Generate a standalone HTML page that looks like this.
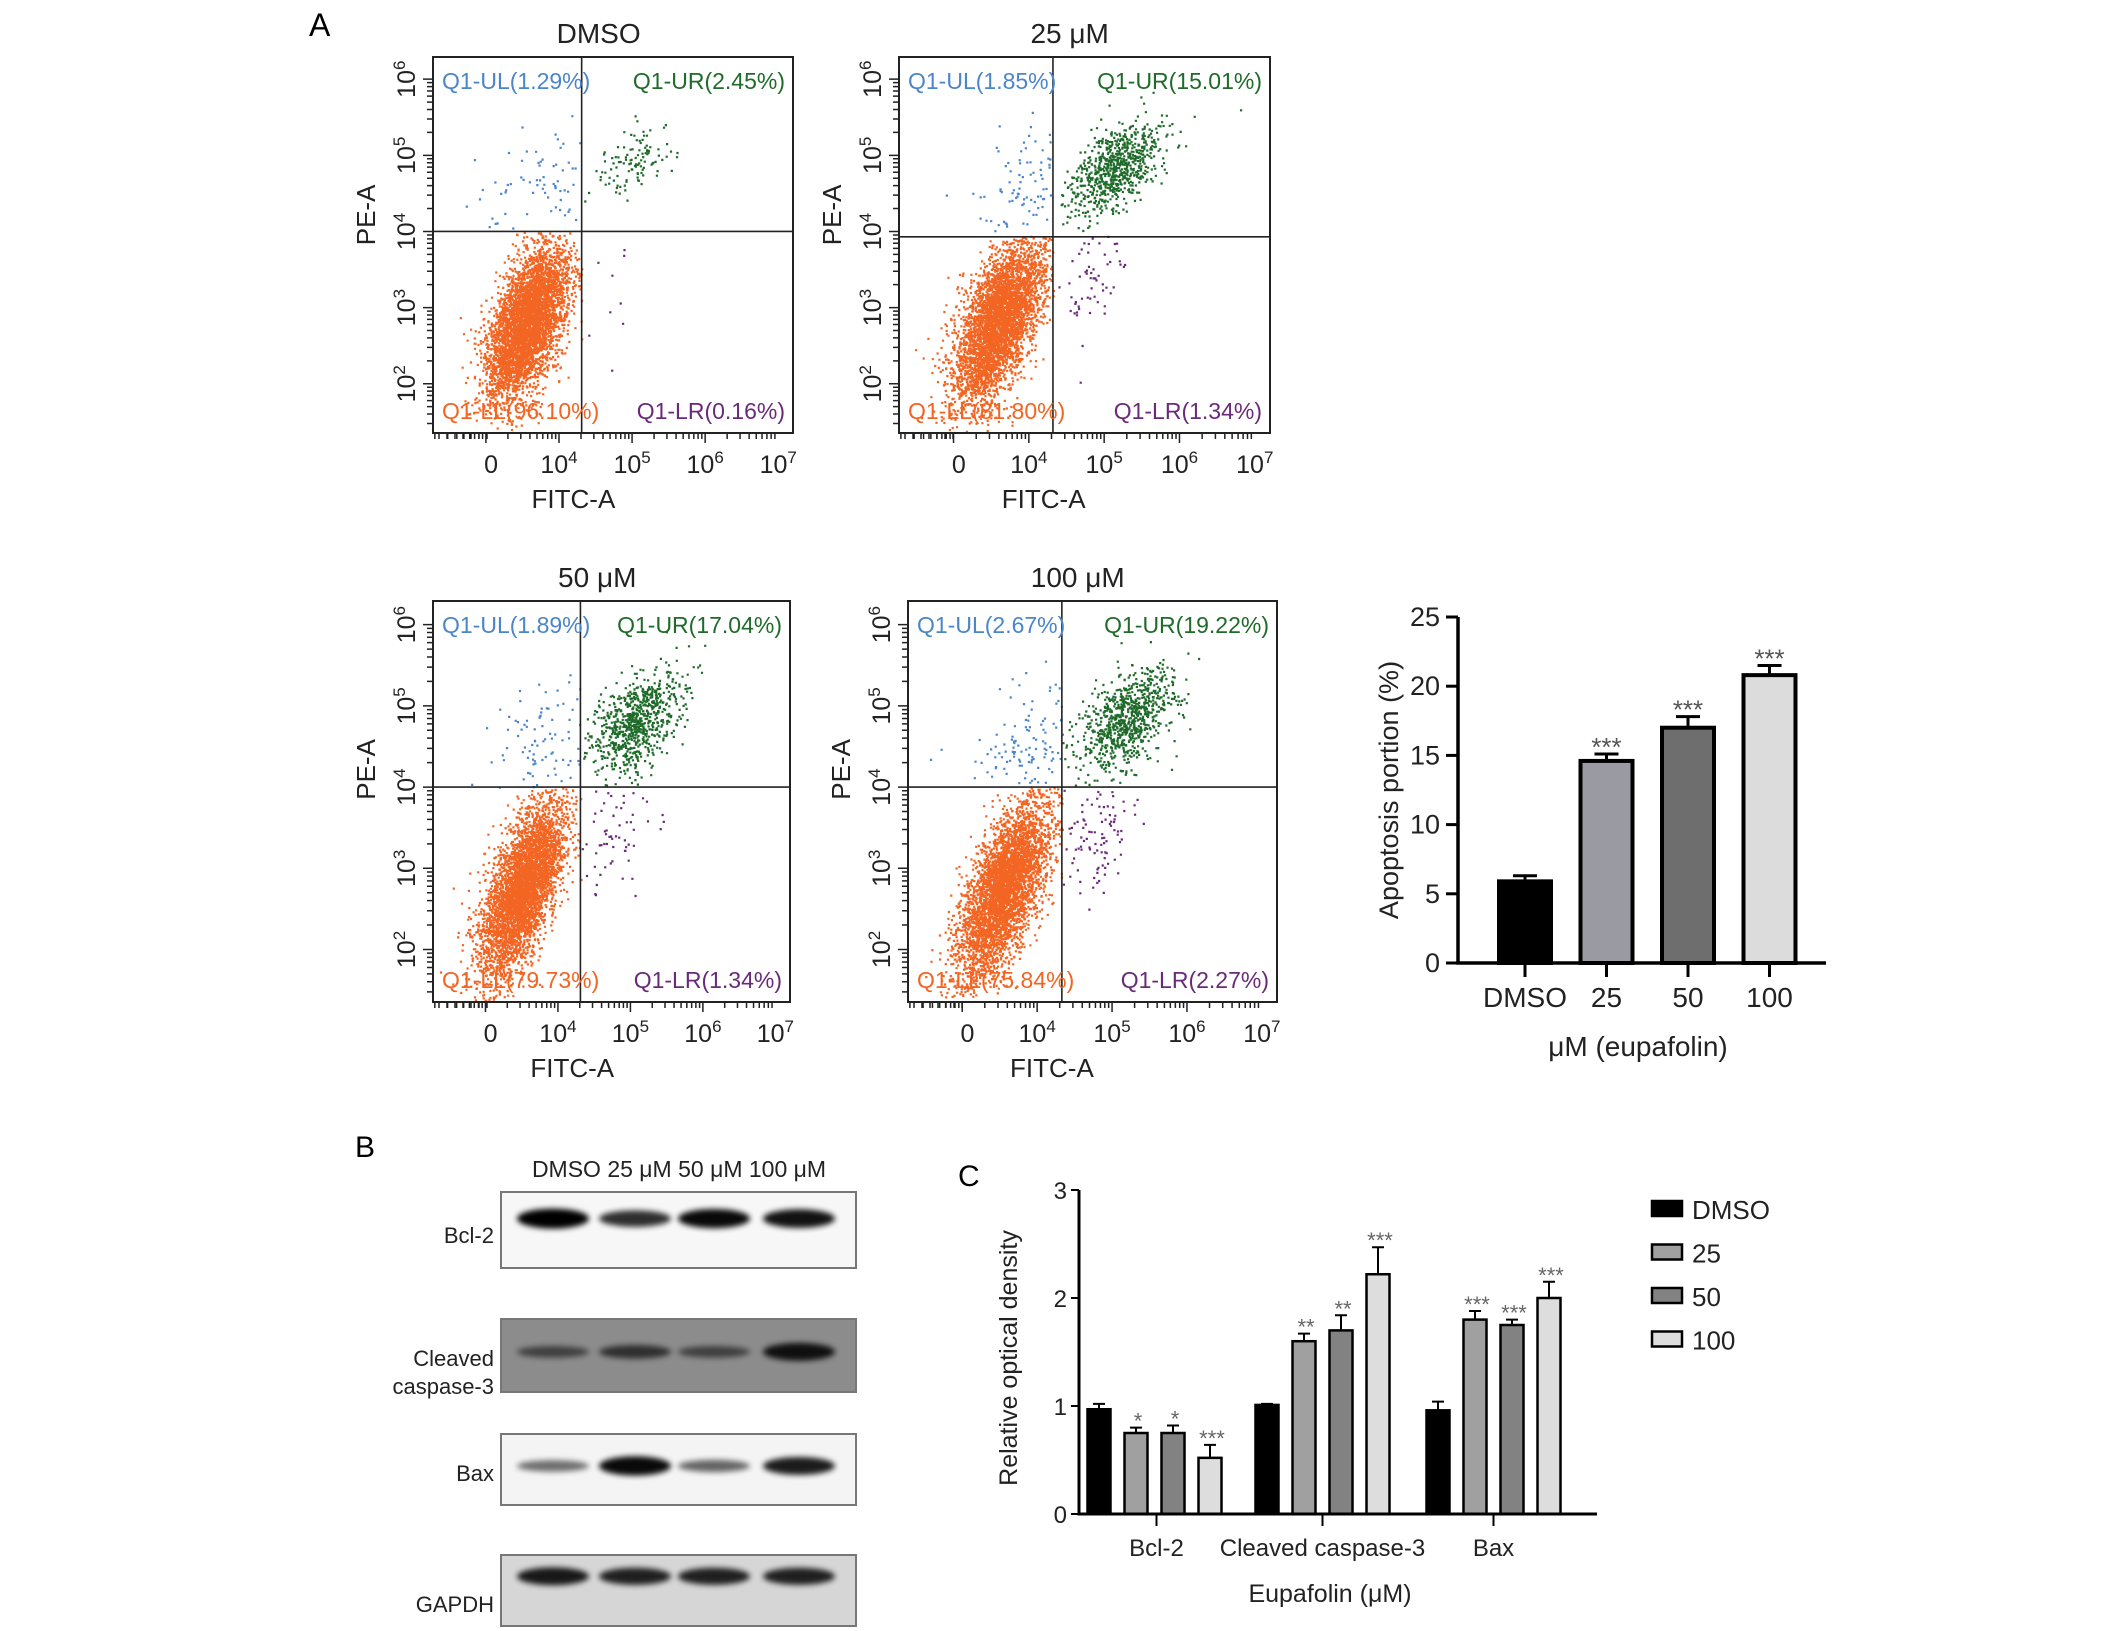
<!DOCTYPE html>
<html><head><meta charset="utf-8"><style>
html,body{margin:0;padding:0;background:#fff;}
svg{display:block;font-family:"Liberation Sans",Arial,sans-serif;}
</style></head><body>
<svg id="fig" width="2126" height="1631" viewBox="0 0 2126 1631" xmlns="http://www.w3.org/2000/svg">
<defs>
<filter id="blur" x="-30%" y="-100%" width="160%" height="300%"><feGaussianBlur stdDeviation="3"/></filter>
</defs>
<text x="309" y="36" font-size="32">A</text>
<text x="355" y="1157" font-size="30">B</text>
<text x="958" y="1186" font-size="30">C</text>
<g id="flows"></g>
<g id="barA"></g>
<g id="blots"></g>
<g id="barC"></g>
</svg>
<script>
var NS="http://www.w3.org/2000/svg";
function el(tag,attrs,parent,txt){var e=document.createElementNS(NS,tag);for(var k in attrs)e.setAttribute(k,attrs[k]);if(txt!==undefined)e.textContent=txt;parent.appendChild(e);return e;}

/* ---------- Flow cytometry data ---------- */
var flowTitles=["DMSO","25 \u03bcM","50 \u03bcM","100 \u03bcM"];
var flowUL=["Q1-UL(1.29%)","Q1-UL(1.85%)","Q1-UL(1.89%)","Q1-UL(2.67%)"];
var flowUR=["Q1-UR(2.45%)","Q1-UR(15.01%)","Q1-UR(17.04%)","Q1-UR(19.22%)"];
var flowLL=["Q1-LL(96.10%)","Q1-LL(81.80%)","Q1-LL(79.73%)","Q1-LL(75.84%)"];
var flowLR=["Q1-LR(0.16%)","Q1-LR(1.34%)","Q1-LR(1.34%)","Q1-LR(2.27%)"];
var gateX=[4.31,4.32,4.31,4.33];
var gateY=[4.0,3.93,4.0,4.0];
/* clusters: [centerX decade, centerY decade, sdX, sdY, correlation, count] */
var llClusters=[[3.55,2.8,0.28,0.5,0.55,4500],[3.6,2.85,0.3,0.55,0.6,4200],[3.5,2.75,0.3,0.55,0.65,4200],[3.55,2.75,0.3,0.55,0.65,4200]];
var urClusters=[[5.05,4.95,0.25,0.25,0.5,110],[5.15,4.85,0.3,0.3,0.5,750],[5.05,4.8,0.32,0.32,0.5,800],[5.2,4.85,0.32,0.32,0.5,850]];
var ulClusters=[[3.7,4.6,0.45,0.45,0.3,80],[3.9,4.5,0.4,0.45,0.3,110],[3.8,4.5,0.45,0.45,0.3,110],[3.9,4.45,0.4,0.4,0.3,150]];
var lrClusters=[[4.7,3.3,0.3,0.5,0.3,10],[4.85,3.45,0.25,0.4,0.4,70],[4.8,3.45,0.25,0.4,0.4,70],[4.85,3.45,0.25,0.4,0.4,100]];
var flowBoxes=[[433,57,360,376],[899,57,371,376],[433,601,357,401],[908,601,369,401]];

var seed=12345;
function rnd(){seed|=0;seed=seed+0x6D2B79F5|0;var t=Math.imul(seed^seed>>>15,1|seed);t=t+Math.imul(t^t>>>7,61|t)^t;return((t^t>>>14)>>>0)/4294967296;}
function gauss(){var u=rnd()||1e-9,v=rnd();return Math.sqrt(-2*Math.log(u))*Math.cos(2*Math.PI*v);}

var flows=document.getElementById('flows');
flowBoxes.forEach(function(b,i){
  var g=el('g',{},flows);
  
  
  var X=b[0],Y=b[1],W=b[2],H=b[3];
  function xf(d){return X+W*(0.35+(d-4)*0.203);}
  function yf(e){return Y+H*(0.059+(6-e)*0.2025);}
  function clip(px,py){return px>X+2&&px<X+W-2&&py>Y+2&&py<Y+H-2;}
  function cluster(c,color,name,cond){
    var d='';
    for(var k=0;k<c[5];k++){
      var a=gauss(),bb=gauss();
      var dx=c[0]+c[2]*a, dy=c[1]+c[3]*(c[4]*a+Math.sqrt(1-c[4]*c[4])*bb);
      if(!cond(dx,dy))continue;
      var px=xf(dx),py=yf(dy);
      if(!clip(px,py))continue;
      d+='M'+px.toFixed(1)+' '+py.toFixed(1)+'h2.2v2.2h-2.2z';
    }
    var p=el('path',{d:d,fill:color},g);
    
    
  }
  var gx=gateX[i],gy=gateY[i];
  cluster(llClusters[i],'#f26522','dots-ll',function(x,y){return x<gx&&y<gy;});
  cluster(ulClusters[i],'#4a86c8','dots-ul',function(x,y){return x<gx&&y>=gy;});
  cluster(urClusters[i],'#1f6b2a','dots-ur',function(x,y){return x>=gx&&y>=gy;});
  cluster(lrClusters[i],'#6a2a7a','dots-lr',function(x,y){return x>=gx&&y<gy;});
  var fr=el('rect',{x:X,y:Y,width:W,height:H,fill:'none',stroke:'#222','stroke-width':2},g);
  
  var vl=el('line',{x1:xf(gx),x2:xf(gx),y1:Y,y2:Y+H,stroke:'#222','stroke-width':1.6},g);
  
  var hl=el('line',{x1:X,x2:X+W,y1:yf(gy),y2:yf(gy),stroke:'#222','stroke-width':1.6},g);
  
  var td='';
  for(var dd=2;dd<7;dd++){for(var m=1;m<10;m++){var xx=xf(dd+Math.log10(m));if(xx>X&&xx<X+W){td+='M'+xx+' '+(Y+H)+'v'+(m==1?10:6);}}}
  for(var xx2=X+6;xx2<xf(3.07);xx2+=8){td+='M'+xx2+' '+(Y+H)+'v6';}
  for(var e=1;e<7;e++){for(var m2=1;m2<10;m2++){var yy=yf(e+Math.log10(m2));if(yy>Y&&yy<Y+H){td+='M'+X+' '+yy+'h-'+(m2==1?10:6);}}}
  el('path',{d:td,stroke:'#222','stroke-width':1.5,fill:'none'},g);
  var xl=[['0',3.07,''],['10',4,'4'],['10',5,'5'],['10',6,'6'],['10',7,'7']];
  xl.forEach(function(t){
    var tx=el('text',{x:xf(t[1]),y:Y+H+40,'font-size':25,'text-anchor':'middle',fill:'#222'},g);
    
    el('tspan',{},tx,t[0]);
    if(t[2])el('tspan',{'font-size':17,dy:-10},tx,t[2]);
  });
  [2,3,4,5,6].forEach(function(e2){
    var tx=el('text',{x:0,y:0,'font-size':25,'text-anchor':'middle',fill:'#222',transform:'translate('+(X-18)+','+yf(e2)+') rotate(-90)'},g);
    
    el('tspan',{},tx,'10');el('tspan',{'font-size':17,dy:-10},tx,String(e2));
  });
  var xt=el('text',{x:X+W*0.39,y:Y+H+75,'font-size':26,'text-anchor':'middle',fill:'#222'},g,'FITC-A');
  
  var yt=el('text',{x:0,y:0,'font-size':26,'text-anchor':'middle',fill:'#222',transform:'translate('+(X-58)+','+(Y+H*0.42)+') rotate(-90)'},g,'PE-A');
  
  var tt=el('text',{x:X+W*0.46,y:Y-14,'font-size':28,'text-anchor':'middle',fill:'#222'},g,flowTitles[i]);
  
  var q;
  q=el('text',{x:X+9,y:Y+32,'font-size':23,fill:'#4a86c8'},g,flowUL[i]);
  q=el('text',{x:X+W-8,y:Y+32,'font-size':23,fill:'#1f6b2a','text-anchor':'end'},g,flowUR[i]);
  q=el('text',{x:X+9,y:Y+H-14,'font-size':23,fill:'#f26522'},g,flowLL[i]);
  q=el('text',{x:X+W-8,y:Y+H-14,'font-size':23,fill:'#6a2a7a','text-anchor':'end'},g,flowLR[i]);
});

/* ---------- Apoptosis bar chart ---------- */
var apCats=["DMSO","25","50","100"];
var apVals=[5.9,14.6,17.0,20.8];
var apErr=[0.4,0.5,0.8,0.7];
var apStars=["","***","***","***"];
var apFills=["#000000","#9a9aa2","#6e6e6e","#dcdcdc"];
var apTicks=[0,5,10,15,20,25];
(function(){
  var g=document.getElementById('barA');
  var x0=1458,xEnd=1826,y0=963,yTop=617,vmax=25;
  function ys(v){return y0-(y0-yTop)*v/vmax;}
  function xs(i){return 1525+i*81.5;}
  var bw=52;
  apCats.forEach(function(c,i){
    var r=el('rect',{x:xs(i)-bw/2,y:ys(apVals[i]),width:bw,height:y0-ys(apVals[i]),fill:apFills[i],stroke:'#000','stroke-width':4},g);
    
    var e=el('path',{d:'M'+xs(i)+' '+ys(apVals[i])+'V'+ys(apVals[i]+apErr[i])+'M'+(xs(i)-12)+' '+ys(apVals[i]+apErr[i])+'h24',stroke:'#000','stroke-width':3,fill:'none'},g);
    
    if(apStars[i]){var s=el('text',{x:xs(i),y:ys(apVals[i]+apErr[i])+2,'font-size':26,'text-anchor':'middle',fill:'#555'},g,apStars[i]);}
    el('path',{d:'M'+xs(i)+' '+y0+'v14',stroke:'#000','stroke-width':3},g);
    var l=el('text',{x:xs(i),y:y0+44,'font-size':28,'text-anchor':'middle',fill:'#222'},g,c);
    
  });
  el('path',{d:'M'+x0+' '+yTop+'V'+y0+'H'+xEnd,stroke:'#000','stroke-width':3.5,fill:'none'},g);
  apTicks.forEach(function(v){
    el('path',{d:'M'+(x0-12)+' '+ys(v)+'h12',stroke:'#000','stroke-width':3},g);
    var t=el('text',{x:x0-18,y:ys(v)+9,'font-size':27,'text-anchor':'end',fill:'#222'},g,String(v));
    
  });
  var yt=el('text',{x:0,y:0,'font-size':27,'text-anchor':'middle',fill:'#222',transform:'translate(1398,790) rotate(-90)'},g,'Apoptosis portion (%)');
  
  var xt=el('text',{x:1638,y:1056,'font-size':28,'text-anchor':'middle',fill:'#222'},g,'\u03bcM (eupafolin)');
  
})();

/* ---------- Western blots ---------- */
var blotNames=["Bcl-2","Cleaved caspase-3","Bax","GAPDH"];
var blotBoxes=[[1192,1268],[1319,1392],[1434,1505],[1555,1626]];
var blotBg=["#f7f7f7","#8c8c8c","#f4f4f4","#d6d6d6"];
var bandIntensity=[[1,0.75,0.95,0.9],[0.4,0.55,0.4,0.85],[0.4,0.95,0.45,0.85],[0.85,0.8,0.8,0.8]];
var bandYFrac=[0.35,0.45,0.45,0.3];
var laneX=[553,635,714,799];
(function(){
  var g=document.getElementById('blots');
  var hdr=el('text',{x:679,y:1177,'font-size':23,'text-anchor':'middle',fill:'#222'},g,'DMSO  25 \u03bcM  50 \u03bcM  100 \u03bcM');
  
  blotBoxes.forEach(function(b,i){
    var gg=el('g',{},g);
    
    
    el('rect',{x:501,y:b[0],width:355,height:b[1]-b[0],fill:blotBg[i],stroke:'#777','stroke-width':2},gg);
    var by=b[0]+(b[1]-b[0])*bandYFrac[i];
    laneX.forEach(function(lx,j){
      var a=bandIntensity[i][j];
      el('ellipse',{cx:lx,cy:by,rx:36,ry:3+7*a,fill:'#000',opacity:Math.min(1,0.25+0.75*a),filter:'url(#blur)'},gg);
    });
  });
  var labs=[["Bcl-2",1243],["Cleaved",1366],["caspase-3",1394],["Bax",1481],["GAPDH",1612]];
  labs.forEach(function(l){var t=el('text',{x:494,y:l[1],'font-size':22,'text-anchor':'end',fill:'#222'},g,l[0]);});
})();

/* ---------- Relative optical density grouped bars ---------- */
var odGroups=["Bcl-2","Cleaved caspase-3","Bax"];
var odSeries=["DMSO","25","50","100"];
var odDMSO=[0.97,1.01,0.96];
var od25=[0.75,1.6,1.8];
var od50=[0.75,1.7,1.75];
var od100=[0.52,2.22,2.0];
var odErrDMSO=[0.05,0.01,0.08];
var odErr25=[0.05,0.07,0.08];
var odErr50=[0.07,0.14,0.05];
var odErr100=[0.12,0.25,0.15];
var odStars25=["*","**","***"];
var odStars50=["*","**","***"];
var odStars100=["***","***","***"];
var odTicks=[0,1,2,3];
var odFills=["#000000","#a0a0a0","#828282","#dddddd"];
(function(){
  var g=document.getElementById('barC');
  var x0=1079,xEnd=1597,y0=1514,y3=1190;
  function ys(v){return y0-(y0-y3)*v/3;}
  var groupStart=[1099,1267,1438];
  function xs(gi,si){return groupStart[gi]+si*37;}
  var vals=[odDMSO,od25,od50,od100],errs=[odErrDMSO,odErr25,odErr50,odErr100],stars=[null,odStars25,odStars50,odStars100];
  var bw=23;
  odGroups.forEach(function(gn,gi){
    odSeries.forEach(function(sn,si){
      var v=vals[si][gi],e=errs[si][gi],cx=xs(gi,si);
      var r=el('rect',{x:cx-bw/2,y:ys(v),width:bw,height:y0-ys(v),fill:odFills[si],stroke:'#000','stroke-width':2.5},g);
      
      
      var eb=el('path',{d:'M'+cx+' '+ys(v)+'V'+ys(v+e)+'M'+(cx-6)+' '+ys(v+e)+'h12',stroke:'#000','stroke-width':2,fill:'none'},g);
      
      if(stars[si]){var s=el('text',{x:cx+2,y:ys(v+e)+1,'font-size':22,'text-anchor':'middle',fill:'#666'},g,stars[si][gi]);}
    });
    var mid=(xs(gi,0)+xs(gi,3))/2+(gi==0?2:0);
    el('path',{d:'M'+mid+' '+y0+'v12',stroke:'#000','stroke-width':2},g);
    var t=el('text',{x:mid,y:1556,'font-size':24,'text-anchor':'middle',fill:'#222'},g,gn);
    
  });
  el('path',{d:'M'+x0+' '+y3+'V'+y0+'H'+xEnd,stroke:'#000','stroke-width':3,fill:'none'},g);
  odTicks.forEach(function(v){
    el('path',{d:'M'+(x0-8)+' '+ys(v)+'h8',stroke:'#000','stroke-width':2},g);
    var t=el('text',{x:x0-12,y:ys(v)+9,'font-size':24,'text-anchor':'end',fill:'#222'},g,String(v));
    
  });
  var yt=el('text',{x:0,y:0,'font-size':25,'text-anchor':'middle',fill:'#222',transform:'translate(1017,1358) rotate(-90)'},g,'Relative optical density');
  
  var xt=el('text',{x:1330,y:1602,'font-size':25,'text-anchor':'middle',fill:'#222'},g,'Eupafolin (\u03bcM)');
  
  odSeries.forEach(function(sn,si){
    var ly=1210+si*43.5;
    var r=el('rect',{x:1652,y:ly-9,width:30,height:15,fill:odFills[si],stroke:'#000','stroke-width':2.5},g);
    
    var t=el('text',{x:1692,y:ly+9,'font-size':26,fill:'#222'},g,sn);
    
  });
})();
</script>
</body></html>
